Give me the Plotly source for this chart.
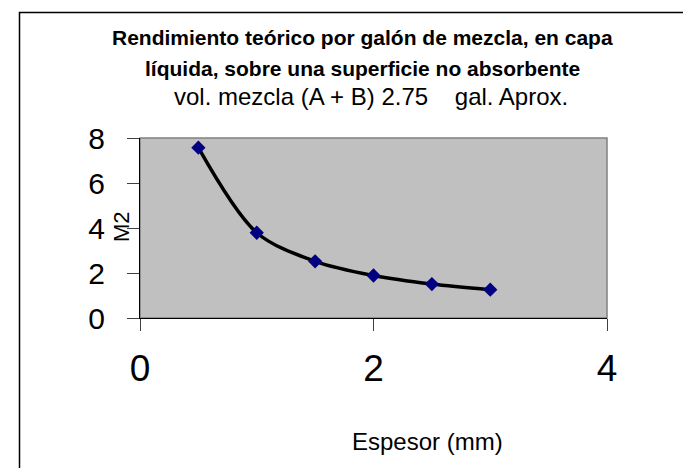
import plotly.graph_objects as go

# Data
espesor_mm = [0.5, 1.0, 1.5, 2.0, 2.5, 3.0]
rendimiento_m2 = [7.57, 3.79, 2.52, 1.89, 1.51, 1.26]
x_ticks = [0, 2, 4]
y_ticks = [0, 2, 4, 6, 8]

title_line1 = "Rendimiento teórico por galón de mezcla, en capa"
title_line2 = "líquida, sobre una superficie no absorbente"
subtitle = "vol. mezcla (A + B) 2.75    gal. Aprox."
x_title = "Espesor (mm)"
y_title = "M2"

W, H = 683, 468
L, R, T, B = 140, 607, 138, 318  # plot area in pixels

def px(xp):
    return (xp - L) / (R - L)

def py(yp):
    return (B - yp) / (B - T)

FONT = "Liberation Sans, Arial, sans-serif"

fig = go.Figure()
fig.add_trace(go.Scatter(
    x=espesor_mm, y=rendimiento_m2, mode="lines+markers",
    line=dict(color="black", width=3.5, shape="spline", smoothing=0.9),
    marker=dict(symbol="diamond", size=11, color="#000080"),
    showlegend=False, cliponaxis=False,
))

fig.update_layout(
    width=W, height=H,
    margin=dict(l=L, r=W - R, t=T, b=H - B, pad=0),
    paper_bgcolor="white",
    plot_bgcolor="#C0C0C0",
    font=dict(family=FONT, color="black"),
    xaxis=dict(range=[0, 4], tickvals=x_ticks, ticks="outside", ticklen=12,
               tickcolor="#404040", showgrid=False, zeroline=False,
               showline=True, linecolor="black", linewidth=1,
               tickfont=dict(size=37, family=FONT), ticklabelstandoff=6),
    yaxis=dict(range=[0, 8], tickvals=y_ticks, ticks="outside", ticklen=12,
               tickcolor="#404040", showgrid=False, zeroline=False,
               showline=True, linecolor="black", linewidth=1,
               tickfont=dict(size=30, family=FONT), ticklabelstandoff=16),
)

# plot-area border (top/right gray)
fig.add_shape(type="rect", xref="paper", yref="paper", x0=0, x1=1, y0=0, y1=1,
              line=dict(color="#808080", width=1.5), layer="below")
# outer chart frame
fig.add_shape(type="rect", xref="paper", yref="paper",
              x0=px(19.5), x1=px(700), y0=py(12.5), y1=py(490),
              line=dict(color="black", width=1.5))

anns = [
    (title_line1, px(362), py(37), 21, True),
    (title_line2, px(362), py(68), 21, True),
    (subtitle, px(371), py(97), 24, False),
]
for txt, xx, yy, sz, bold in anns:
    fig.add_annotation(text=f"<b>{txt}</b>" if bold else txt, x=xx, y=yy,
                       xref="paper", yref="paper", showarrow=False,
                       xanchor="center", yanchor="middle",
                       font=dict(size=sz, family=FONT, color="black"))

fig.add_annotation(text=x_title, x=px(427), y=py(441), xref="paper", yref="paper",
                   showarrow=False, xanchor="center", yanchor="middle",
                   font=dict(size=24, family=FONT, color="black"))
fig.add_annotation(text=y_title, x=px(121), y=py(227), xref="paper", yref="paper",
                   showarrow=False, xanchor="center", yanchor="middle", textangle=-90,
                   font=dict(size=22, family=FONT, color="black"))

fig.write_html("out.html", config={"displayModeBar": False},
               post_script="document.body.style.margin='0';document.body.style.overflow='hidden';")
